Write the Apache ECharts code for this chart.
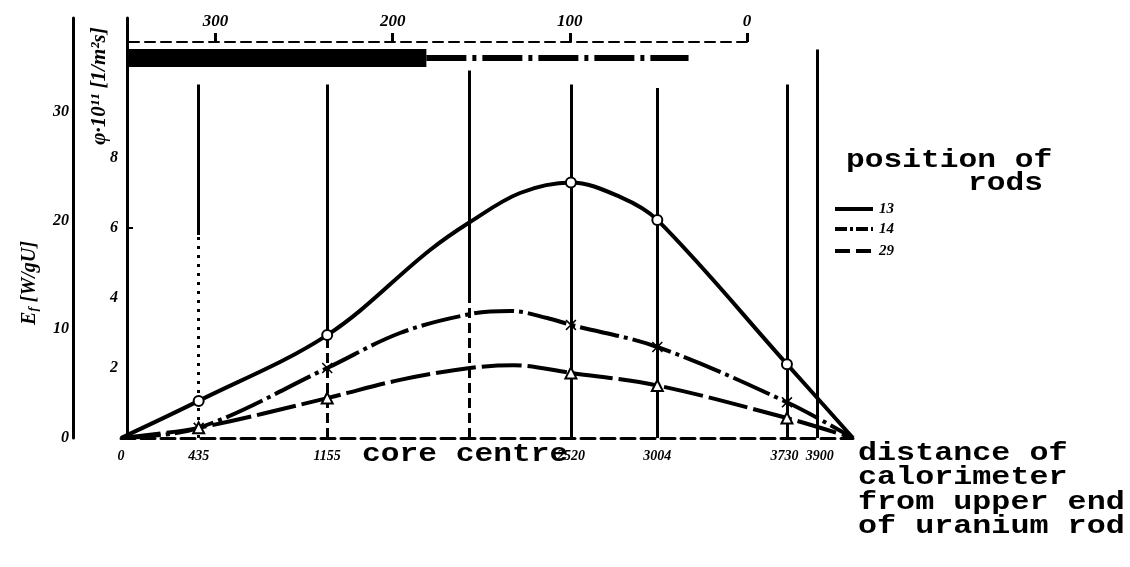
<!DOCTYPE html>
<html><head><meta charset="utf-8">
<script src="https://cdn.jsdelivr.net/npm/echarts@6/dist/echarts.min.js"></script>
<style>html,body{margin:0;padding:0;background:#fff}#c{width:1130px;height:567px}</style>
</head><body><div id="c"></div>
<script>
// ---- data ----
const distTicks = [0, 435, 1155, 2520, 3004, 3730, 3900];
const measured = [435, 1155, 2520, 3004, 3730];
const coreCentre = 1950;
const eTicks = [2, 4, 6, 8];
const phiTicks = [0, 10, 20, 30];
const depthTicks = [0, 100, 200, 300];
const rods13 = [[0,0],[435,1.06],[1155,2.94],[1731,5.37],[1955,6.17],[2235,7.0],[2520,7.3],[2795,6.89],[3004,6.23],[3730,2.11],[4100,0]];
const rods14 = [[0,0],[435,0.29],[1155,2.0],[1563,3.0],[1955,3.54],[2180,3.63],[2387,3.43],[2520,3.23],[3004,2.6],[3730,1.02],[4100,0]];
const rods29 = [[0,0],[435,0.29],[1155,1.14],[1563,1.66],[1955,2.0],[2200,2.08],[2520,1.86],[3004,1.5],[3730,0.57],[4100,0]];
const rodBar = [[350,0.53],[181,0.53]];
const rodDashDot = [[181,0.53],[33,0.53]];
const guideTops = [[435,10.1],[1155,10.1],[coreCentre,10.5],[2520,10.1],[3004,10.0],[3730,10.1],[3900,11.1]];
const legendNames = ['13', '14', '29'];

// ---- styles ----
const numFont = {fontFamily:'Liberation Serif', fontStyle:'italic', fontWeight:'bold', fontSize:16, color:'#000'};
const mono = 'bold 25px "Liberation Mono"';
const xSym = 'path://M0,1L1,0L5,4L9,0L10,1L6,5L10,9L9,10L5,6L1,10L0,9L4,5Z';
const plain = v => String(v);
const distLabel = v => v === 3730 ? '{l|' + v + '}' : v === 3900 ? '{r|' + v + '}' : String(v);

function withSymbols(arr, sym) {
  return arr.map(p => ({value: p, symbol: measured.includes(p[0]) ? sym : 'none'}));
}

const guideStyles = {
  435: [[0, 5.8, [3, 6]], [5.8, null, 'solid']],
  1155: [[0, 3.0, [10, 5]], [3.0, null, 'solid']],
  1950: [[0, 4.0, [10, 5]], [4.0, null, 'solid']]
};
const markData = [];
guideTops.forEach(([x, top]) => {
  const segs = guideStyles[x] || [[0, null, 'solid']];
  segs.forEach(([a, b, t]) => {
    markData.push([{coord:[x, a], lineStyle:{type:t, width:3, color:'#000'}}, {coord:[x, b === null ? top : b]}]);
  });
});

const chart = echarts.init(document.getElementById('c'));
chart.setOption({
  backgroundColor: '#fff',
  animation: false,
  grid: [
    {left:121, top:18, width:732, height:420},
    {left:127, top:42, width:620, height:30}
  ],
  xAxis: [
    {gridIndex:0, type:'value', min:0, max:4100, position:'bottom',
     axisLine:{lineStyle:{color:'#000', width:3, type:[14,6]}},
     axisTick:{show:false}, splitLine:{show:false},
     axisLabel:Object.assign({customValues:distTicks, margin:11, formatter:distLabel, hideOverlap:false, showMaxLabel:true,
       rich:{l:{padding:[0,5,0,0]}, r:{padding:[0,0,0,5]}}}, numFont, {fontSize:14})},
    {gridIndex:1, type:'value', min:0, max:350, inverse:true, position:'top',
     axisLine:{lineStyle:{color:'#000', width:2, type:[10,6]}},
     axisTick:{customValues:depthTicks, length:9, lineStyle:{color:'#000', width:3}},
     splitLine:{show:false},
     axisLabel:Object.assign({customValues:depthTicks, margin:12, formatter:plain}, numFont, {fontSize:17})}
  ],
  yAxis: [
    {gridIndex:0, type:'value', min:0, max:12, position:'left', offset:-6,
     axisLine:{show:true, lineStyle:{color:'#000', width:3}},
     axisTick:{show:true, inside:true, customValues:[6], length:6, lineStyle:{color:'#000', width:2}},
     splitLine:{show:false},
     axisLabel:Object.assign({customValues:eTicks, margin:9, formatter:plain}, numFont)},
    {gridIndex:0, type:'value', min:0, max:38.64, position:'left', offset:48,
     axisLine:{show:true, lineStyle:{color:'#000', width:3}},
     axisTick:{show:false}, splitLine:{show:false},
     axisLabel:Object.assign({customValues:phiTicks, margin:4, formatter:plain}, numFont)},
    {gridIndex:1, type:'value', min:0, max:1, inverse:true, show:false}
  ],
  series: [
    {name:'guides', type:'line', data:[], xAxisIndex:0, yAxisIndex:0, silent:true,
     markLine:{silent:true, symbol:['none','none'], label:{show:false}, data:markData}},
    {name:legendNames[0], type:'line', xAxisIndex:0, yAxisIndex:0, smooth:0.35,
     data:withSymbols(rods13, 'emptyCircle'), symbolSize:10,
     lineStyle:{color:'#000', width:4}, itemStyle:{color:'#000', borderWidth:2.5}, z:5},
    {name:legendNames[1], type:'line', xAxisIndex:0, yAxisIndex:0, smooth:0.35,
     data:withSymbols(rods14, xSym), symbolSize:11,
     lineStyle:{color:'#000', width:4, type:[40,5,4,5]}, itemStyle:{color:'#000'}, z:5},
    {name:legendNames[2], type:'line', xAxisIndex:0, yAxisIndex:0, smooth:0.35,
     data:withSymbols(rods29, 'emptyTriangle'), symbolSize:11,
     lineStyle:{color:'#000', width:4, type:[40,6]}, itemStyle:{color:'#000', borderWidth:2.5}, z:5},
    {name:'rod bar', type:'line', xAxisIndex:1, yAxisIndex:2, data:rodBar, symbol:'none',
     lineStyle:{color:'#000', width:18, cap:'butt'}, silent:true},
    {name:'rod path', type:'line', xAxisIndex:1, yAxisIndex:2, data:rodDashDot, symbol:'none',
     lineStyle:{color:'#000', width:6, type:[40,6,4,6], cap:'butt'}, silent:true}
  ],
  graphic: [
    {type:'text', x:100, y:86, rotation:Math.PI/2,
     style:{text:'φ·10¹¹ [1/m²s]', font:'bold italic 21px "Liberation Serif"', fill:'#000', align:'center', verticalAlign:'middle'}},
    {type:'text', x:30, y:283, rotation:Math.PI/2,
     style:{text:'{e|E}{s|f}{e| [W/gU]}', fill:'#000', align:'center', verticalAlign:'middle',
       rich:{e:{font:'bold italic 20px "Liberation Serif"', fill:'#000'}, s:{font:'bold italic 13px "Liberation Serif"', fill:'#000', verticalAlign:'bottom', padding:[8,0,0,0]}}}},
    {type:'text', x:362, y:455, scaleX:1.25,
     style:{text:'core centre', font:mono, fill:'#000', align:'left', verticalAlign:'middle'}},
    {type:'text', x:858, y:441, scaleX:1.27,
     style:{text:'distance of\ncalorimeter\nfrom upper end\nof uranium rod', font:mono, lineHeight:24.5, fill:'#000', align:'left', verticalAlign:'top'}},
    {type:'text', x:846, y:161, scaleX:1.25,
     style:{text:'position of', font:mono, fill:'#000', align:'left', verticalAlign:'middle'}},
    {type:'text', x:968, y:184, scaleX:1.25,
     style:{text:'rods', font:mono, fill:'#000', align:'left', verticalAlign:'middle'}},
    {type:'line', shape:{x1:835, y1:209, x2:873, y2:209}, style:{stroke:'#000', lineWidth:4}},
    {type:'line', shape:{x1:835, y1:229, x2:873, y2:229}, style:{stroke:'#000', lineWidth:4, lineDash:[12,3,3,3]}},
    {type:'line', shape:{x1:835, y1:251, x2:873, y2:251}, style:{stroke:'#000', lineWidth:4, lineDash:[15,6]}},
    {type:'text', x:879, y:209, style:{text:legendNames[0], font:'bold italic 15px "Liberation Serif"', fill:'#000', verticalAlign:'middle'}},
    {type:'text', x:879, y:229, style:{text:legendNames[1], font:'bold italic 15px "Liberation Serif"', fill:'#000', verticalAlign:'middle'}},
    {type:'text', x:879, y:251, style:{text:legendNames[2], font:'bold italic 15px "Liberation Serif"', fill:'#000', verticalAlign:'middle'}}
  ]
});
</script></body></html>
